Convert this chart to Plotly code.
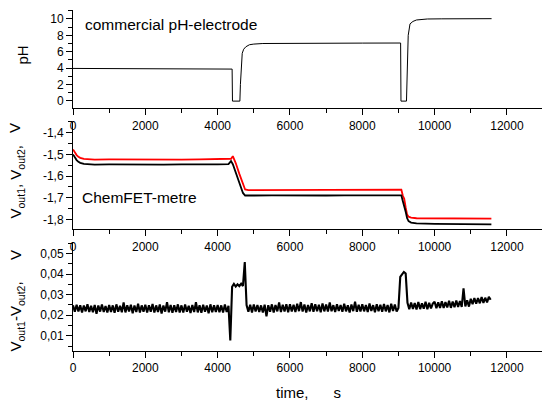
import plotly.graph_objects as go

# ---- data ----
# pH, commercial electrode
ph_time = [0, 1000, 2000, 3000, 4000, 4400, 4410, 4615, 4630, 4650, 4680, 4720, 4780,
           4880, 5000, 5250, 6000, 7000, 8000, 9060, 9070, 9222, 9240, 9270, 9320, 9400,
           9500, 9650, 9800, 10200, 11000, 11576]
ph_value = [3.95, 3.93, 3.92, 3.9, 3.88, 3.87, -0.05, -0.05, 2.0, 4.5, 5.8, 6.3, 6.6,
            6.85, 6.93, 7.0, 7.03, 7.04, 7.05, 7.06, -0.05, -0.05, 4.0, 8.0, 9.4, 9.7,
            9.88, 9.96, 10.0, 10.02, 10.03, 10.04]

# ChemFET-metre outputs
v_time = [0, 50, 100, 150, 200, 300, 400, 600, 1000, 1500, 2000, 2500, 3000, 3500, 4000,
          4300, 4370, 4420, 4500, 4600, 4700, 4760, 4850, 5000, 5500, 6000, 6500, 7000,
          7500, 8000, 8500, 9000, 9080, 9120, 9160, 9200, 9240, 9280, 9350, 9500, 10000,
          10500, 11000, 11570]
v_black = [-1.500, -1.515, -1.526, -1.534, -1.539, -1.544, -1.546, -1.547, -1.546, -1.547,
           -1.546, -1.547, -1.546, -1.547, -1.546, -1.545, -1.531, -1.545, -1.585, -1.635,
           -1.678, -1.690, -1.689, -1.690, -1.689, -1.690, -1.689, -1.690, -1.689, -1.689,
           -1.690, -1.688, -1.689, -1.715, -1.735, -1.765, -1.795, -1.808, -1.815, -1.819,
           -1.821, -1.822, -1.823, -1.823]
v_red = [-1.477, -1.493, -1.503, -1.511, -1.516, -1.521, -1.523, -1.524, -1.523, -1.524,
         -1.523, -1.523, -1.524, -1.523, -1.523, -1.523, -1.520, -1.508, -1.540, -1.590,
         -1.638, -1.662, -1.665, -1.665, -1.664, -1.665, -1.664, -1.664, -1.663, -1.664,
         -1.663, -1.662, -1.663, -1.690, -1.705, -1.745, -1.778, -1.788, -1.792, -1.795,
         -1.796, -1.797, -1.797, -1.797]

# difference Vout1 - Vout2, sampled every 50 s (one row = 1000 s)
diff_time = list(range(0, 11551, 50))
diff_value = [
    0.0249, 0.0217, 0.0251, 0.0218, 0.0248, 0.0214, 0.0247, 0.0219, 0.0254, 0.0216,
    0.0246, 0.0215, 0.0250, 0.0207, 0.0247, 0.0218, 0.0252, 0.0216, 0.0245, 0.0214,
    0.0250, 0.0216, 0.0248, 0.0212, 0.0253, 0.0217, 0.0246, 0.0215, 0.0262, 0.0214,
    0.0249, 0.0218, 0.0251, 0.0210, 0.0247, 0.0216, 0.0256, 0.0213, 0.0248, 0.0217,
    0.0251, 0.0214, 0.0249, 0.0217, 0.0255, 0.0213, 0.0248, 0.0216, 0.0252, 0.0209,
    0.0247, 0.0218, 0.0264, 0.0215, 0.0250, 0.0212, 0.0249, 0.0216, 0.0253, 0.0214,
    0.0248, 0.0213, 0.0252, 0.0217, 0.0246, 0.0211, 0.0250, 0.0216, 0.0263, 0.0214,
    0.0249, 0.0212, 0.0251, 0.0217, 0.0247, 0.0210, 0.0253, 0.0215, 0.0248, 0.0216,
    0.0250, 0.0215, 0.0248, 0.0213, 0.0252, 0.0216, 0.0246, 0.0078, 0.0338, 0.0352,
    0.0339, 0.0350, 0.0341, 0.0353, 0.0342, 0.0458, 0.0250, 0.0217, 0.0251, 0.0214,
    0.0252, 0.0218, 0.0250, 0.0216, 0.0248, 0.0213, 0.0251, 0.0195, 0.0249, 0.0217,
    0.0253, 0.0214, 0.0250, 0.0219, 0.0262, 0.0216, 0.0251, 0.0218, 0.0254, 0.0215,
    0.0253, 0.0219, 0.0251, 0.0216, 0.0256, 0.0220, 0.0264, 0.0218, 0.0252, 0.0214,
    0.0250, 0.0219, 0.0258, 0.0217, 0.0254, 0.0220, 0.0251, 0.0215, 0.0257, 0.0219,
    0.0252, 0.0218, 0.0262, 0.0220, 0.0249, 0.0216, 0.0253, 0.0221, 0.0250, 0.0217,
    0.0256, 0.0219, 0.0248, 0.0214, 0.0252, 0.0220, 0.0266, 0.0217, 0.0251, 0.0218,
    0.0254, 0.0219, 0.0250, 0.0216, 0.0257, 0.0221, 0.0249, 0.0215, 0.0253, 0.0220,
    0.0251, 0.0217, 0.0255, 0.0219, 0.0250, 0.0214, 0.0256, 0.0221, 0.0252, 0.0218,
    0.0236, 0.0386, 0.0398, 0.0410, 0.0402, 0.0260, 0.0229, 0.0262, 0.0231, 0.0259,
    0.0228, 0.0264, 0.0230, 0.0258, 0.0232, 0.0266, 0.0229, 0.0261, 0.0233, 0.0257,
    0.0266, 0.0234, 0.0263, 0.0236, 0.0268, 0.0235, 0.0264, 0.0238, 0.0270, 0.0236,
    0.0267, 0.0239, 0.0272, 0.0240, 0.0269, 0.0241, 0.0330, 0.0243, 0.0273, 0.0242,
    0.0280, 0.0254, 0.0284, 0.0256, 0.0283, 0.0258, 0.0288, 0.0260, 0.0285, 0.0262,
    0.0289, 0.0275,
]

# tick labels (comma decimal, plain hyphen minus as in the original)
x_ticks = [0, 2000, 4000, 6000, 8000, 10000, 12000]
x_ticktext = ["0", "2000", "4000", "6000", "8000", "10000", "12000"]
ph_ticks = [0, 2, 4, 6, 8, 10]
ph_ticktext = ["0", "2", "4", "6", "8", "10"]
v_ticks = [-1.4, -1.5, -1.6, -1.7, -1.8]
v_ticktext = ["-1,4", "-1,5", "-1,6", "-1,7", "-1,8"]
d_ticks = [0.01, 0.02, 0.03, 0.04, 0.05]
d_ticktext = ["0,01", "0,02", "0,03", "0,04", "0,05"]

FONT = "Liberation Sans, Arial, sans-serif"

fig = go.Figure()
fig.add_trace(go.Scatter(x=ph_time, y=ph_value, mode="lines",
                         line=dict(color="black", width=1), xaxis="x", yaxis="y"))
fig.add_trace(go.Scatter(x=v_time, y=v_red, mode="lines",
                         line=dict(color="#ff0000", width=1.8), xaxis="x2", yaxis="y2"))
fig.add_trace(go.Scatter(x=v_time, y=v_black, mode="lines",
                         line=dict(color="black", width=1.8), xaxis="x2", yaxis="y2"))
fig.add_trace(go.Scatter(x=diff_time, y=diff_value, mode="lines",
                         line=dict(color="black", width=2.1), xaxis="x3", yaxis="y3"))

common_x = dict(
    range=[0, 12970], showline=True, linecolor="black", linewidth=1,
    ticks="outside", ticklen=6, tickcolor="black", showgrid=False, zeroline=False,
    tickmode="array", tickvals=x_ticks, ticktext=x_ticktext, automargin=False,
    minor=dict(ticks="outside", ticklen=4, tickcolor="black", tickmode="linear",
               tick0=1000, dtick=2000),
    tickfont=dict(size=12, color="black"),
)
common_y = dict(
    showline=True, linecolor="black", linewidth=1, ticks="outside", ticklen=6,
    tickcolor="black", showgrid=False, zeroline=False, tickmode="array",
    automargin=False, tickfont=dict(size=12, color="black"),
)

fig.update_layout(
    width=542, height=401, autosize=False,
    margin=dict(l=73, r=0, t=10, b=50),
    paper_bgcolor="white", plot_bgcolor="white",
    showlegend=False,
    font=dict(family=FONT, color="black"),
    xaxis=dict(common_x, domain=[0, 1], anchor="y"),
    xaxis2=dict(common_x, domain=[0, 1], anchor="y2"),
    xaxis3=dict(common_x, domain=[0, 1], anchor="y3"),
    yaxis=dict(common_y, domain=[0.7117, 1.0], range=[-0.93, 11.1], anchor="x",
               tickvals=ph_ticks, ticktext=ph_ticktext,
               minor=dict(ticks="outside", ticklen=4, tickcolor="black",
                          tickmode="linear", tick0=1, dtick=2)),
    yaxis2=dict(common_y, domain=[0.357, 0.6716], range=[-1.846, -1.35], anchor="x2",
                tickvals=v_ticks, ticktext=v_ticktext,
                minor=dict(ticks="outside", ticklen=4, tickcolor="black",
                           tickmode="linear", tick0=-1.45, dtick=0.1)),
    yaxis3=dict(common_y, domain=[0, 0.3196], range=[0.0027, 0.0555], anchor="x3",
                tickvals=d_ticks, ticktext=d_ticktext,
                minor=dict(ticks="outside", ticklen=4, tickcolor="black",
                           tickmode="linear", tick0=0.005, dtick=0.01)),
)

notes = [
    dict(text="commercial pH-electrode", x=270, y=9.35, xref="x", yref="y",
         xanchor="left", yanchor="middle", font=dict(size=15.5)),
    dict(text="ChemFET-metre", x=194, y=-1.699, xref="x2", yref="y2",
         xanchor="left", yanchor="middle", font=dict(size=15.5)),
    dict(text="time,&nbsp;&nbsp;&nbsp;&nbsp;&nbsp; s", x=0.503, y=-0.123,
         xref="paper", yref="paper",
         xanchor="center", yanchor="middle", font=dict(size=15)),
    dict(text="pH", x=-0.1077, y=0.868, xref="paper", yref="paper", textangle=-90,
         xanchor="center", yanchor="middle", font=dict(size=15)),
    dict(text="V", x=-0.1237, y=0.654, xref="paper", yref="paper", textangle=-90,
         xanchor="center", yanchor="middle", font=dict(size=15)),
    dict(text="V<sub>out1</sub>, V<sub>out2</sub>,", x=-0.1205, y=0.4956,
         xref="paper", yref="paper", textangle=-90,
         xanchor="center", yanchor="middle", font=dict(size=15)),
    dict(text="V", x=-0.1237, y=0.2815, xref="paper", yref="paper", textangle=-90,
         xanchor="center", yanchor="middle", font=dict(size=15)),
    dict(text="V<sub>out1</sub>-V<sub>out2</sub>,", x=-0.1205, y=0.1026,
         xref="paper", yref="paper", textangle=-90,
         xanchor="center", yanchor="middle", font=dict(size=15)),
]
for a in notes:
    a["showarrow"] = False
    fig.add_annotation(**a)

# the page's default 8px body margin would shift the whole chart
fig.write_html("out.html", config={"displayModeBar": False},
               post_script="document.body.style.margin='0';")
